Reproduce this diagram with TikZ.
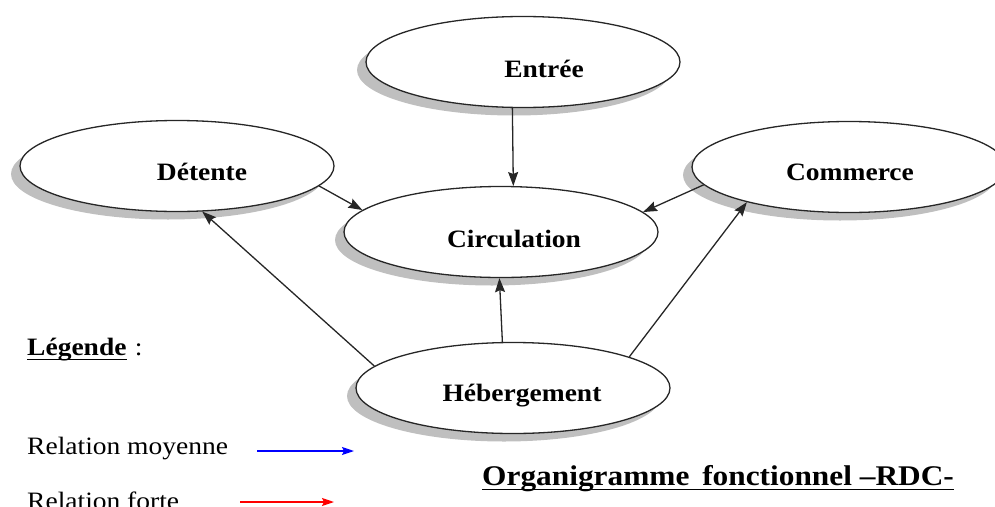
\documentclass[tikz,border=0pt]{standalone}
\usepackage{fontspec}
\setmainfont{Liberation Serif}[FakeStretch=1.1]
\usetikzlibrary{shapes.geometric,arrows.meta,shadows}
\begin{document}
\begin{tikzpicture}[x=1pt,y=-1pt,
  zone/.style={ellipse, draw=black!85, line width=1.3pt, fill=white,
    minimum width=314pt, minimum height=91pt, inner sep=0pt,
    drop shadow={shadow xshift=-9pt, shadow yshift=-8pt, fill=black!25, opacity=1}},
  lbl/.style={font=\bfseries\fontsize{25}{30}\selectfont, anchor=base, inner sep=0pt},
  lgt/.style={font=\fontsize{25}{30}\selectfont, anchor=base west, inner sep=0pt},
  rel/.style={-{Stealth[length=14pt,width=10pt,inset=2pt]}, line width=1.3pt, black!85},
  legarrow/.style={-{Stealth[length=12pt,width=8pt,inset=2pt]}, line width=1.5pt}]
\useasboundingbox (0,0) rectangle (995,506);
% zones
\node[zone] (ent) at (523,62) {};
\node[zone] (circ) at (501,232) {};
\node[zone] (det) at (177,166) {};
\node[zone] (com) at (849,167) {};
\node[zone] (heb) at (513,388) {};
% labels
\node[lbl] (tent) at (544,77) {Entrée};
\node[lbl] (tcirc) at (514,247) {Circulation};
\node[lbl] (tdet) at (202,180) {Détente};
\node[lbl] (tcom) at (850,180) {Commerce};
\node[lbl] (theb) at (522,401) {Hébergement};
% connectors
\draw[rel] (ent.257) -- (circ.75);
\draw[rel] (det.352) -- (circ.171.7);
\draw[rel] (com.187.3) -- (circ.8.6);
\draw[rel] (heb.103.7) -- (circ.268);
\draw[rel] (heb.15.4) -- (com.199.8);
\draw[rel] (heb.171) -- (det.299);
% legend
\node[lgt] (leg) at (27,355) {\bfseries Légende};
\node[lgt] (legc) at ([xshift=8pt]leg.base east) {:};
\draw[line width=1.3pt] ([yshift=-4.5pt]leg.base west) -- ([yshift=-4.5pt]leg.base east);
\node[lgt] (rmoy) at (27,454) {Relation moyenne};
\node[lgt] (rfor) at (27,509) {Relation forte};
\coordinate (b1) at (257,451);
\coordinate (b2) at (354,451);
\coordinate (r1) at (240,502);
\coordinate (r2) at (334,502);
\draw[legarrow, blue] (b1) -- (b2);
\draw[legarrow, red] (r1) -- (r2);
% title
\node[lgt, font=\bfseries\fontsize{28.5}{34}\selectfont] (ttl) at (482,485) {Organigramme\hspace{5pt} fonctionnel –RDC-};
\draw[line width=1.6pt] ([yshift=-4.5pt]ttl.base west) -- ([yshift=-4.5pt]ttl.base east);
\end{tikzpicture}
\end{document}
